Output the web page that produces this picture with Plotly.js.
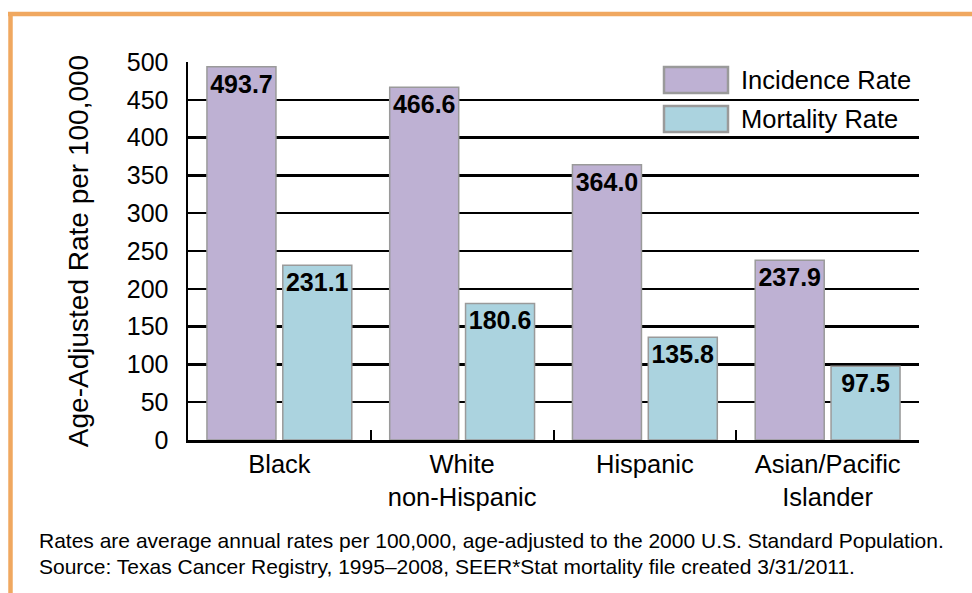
<!DOCTYPE html>
<html>
<head>
<meta charset="utf-8">
<script src="https://cdn.plot.ly/plotly-3.0.1.min.js"></script>
<style>
  html, body { margin: 0; padding: 0; background: #ffffff; }
  #chart { width: 972px; height: 593px; }
</style>
</head>
<body>
<div id="chart"></div>
<script>
// ---- Data ----
const categories = ['Black', 'White<br>non-Hispanic', 'Hispanic', 'Asian/Pacific<br>Islander'];
const incidenceRate = [493.7, 466.6, 364.0, 237.9];
const mortalityRate = [231.1, 180.6, 135.8, 97.5];
const seriesNames = ['Incidence Rate', 'Mortality Rate'];
const yTickValues = [0, 50, 100, 150, 200, 250, 300, 350, 400, 450, 500];
const yAxisTitle = 'Age-Adjusted Rate per 100,000';
const footnoteLines = [
  'Rates are average annual rates per 100,000, age-adjusted to the 2000 U.S. Standard Population.',
  'Source: Texas Cancer Registry, 1995\u20132008, SEER*Stat mortality file created 3/31/2011.'
];

// ---- Styles ----
const FONT = 'Liberation Sans, Arial, Helvetica, sans-serif';
const colors = ['#BEB1D3', '#ABD3DF'];
const barEdge = '#9a9a9a';
const orange = '#F0A860';

// ---- Layout geometry (pixels) ----
const W = 972, H = 593;
const L = 188, R = 919, T = 62, B = 440;
const pw = R - L, ph = B - T;
const px = x => (x - L) / pw;
const py = y => (B - y) / ph;

const seriesValues = [incidenceRate, mortalityRate];
const traces = seriesValues.map((vals, i) => ({
  type: 'bar',
  name: seriesNames[i],
  x: categories,
  y: vals,
  marker: { color: colors[i], line: { color: barEdge, width: 1.5 } },
  texttemplate: '%{y:.1f}',
  textposition: 'inside',
  insidetextanchor: 'end',
  textangle: 0,
  constraintext: 'none',
  textfont: { family: FONT, size: 25, color: '#000000', weight: 700 },
  hoverinfo: 'x+y',
  showlegend: false
}));

const shapes = [
  // orange frame (top and left)
  { type: 'line', xref: 'paper', yref: 'paper', x0: px(8), x1: px(W + 5), y0: py(14), y1: py(14),
    line: { color: orange, width: 4.5 }, layer: 'above' },
  { type: 'line', xref: 'paper', yref: 'paper', x0: px(10.5), x1: px(10.5), y0: py(12), y1: py(H + 5),
    line: { color: orange, width: 4.5 }, layer: 'above' }
];
const annotations = [];

// legend swatches + labels
const legendRows = [[67, 93], [106, 132]];
seriesNames.forEach((name, i) => {
  const [y0, y1] = legendRows[i];
  shapes.push({ type: 'rect', xref: 'paper', yref: 'paper',
    x0: px(664), x1: px(728), y0: py(y0), y1: py(y1),
    fillcolor: colors[i], line: { color: barEdge, width: 2.5 }, layer: 'above' });
  annotations.push({ xref: 'paper', yref: 'paper', x: px(739), y: py((y0 + y1) / 2),
    xanchor: 'left', yanchor: 'middle', showarrow: false, text: name,
    font: { family: FONT, size: 25.5, color: '#000000' } });
});

// footnote
const footY = [540, 566];
footnoteLines.forEach((t, i) => {
  annotations.push({ xref: 'paper', yref: 'paper', x: px(37), y: py(footY[i]),
    xanchor: 'left', yanchor: 'middle', showarrow: false, text: t,
    font: { family: FONT, size: 21, color: '#000000' } });
});

const layout = {
  width: W, height: H,
  margin: { l: L, r: W - R, t: T, b: H - B, pad: 0 },
  paper_bgcolor: '#ffffff',
  plot_bgcolor: 'rgba(0,0,0,0)',
  font: { family: FONT, size: 25, color: '#000000' },
  barmode: 'group',
  bargap: 0.17,
  bargroupgap: 0.09,
  showlegend: false,
  xaxis: {
    type: 'category',
    showline: true, linecolor: '#000000', linewidth: 2.5,
    ticks: 'inside', tickson: 'boundaries', ticklen: 10, tickwidth: 2, tickcolor: '#000000',
    showgrid: false, zeroline: false,
    tickfont: { family: FONT, size: 25.5, color: '#000000' },
    automargin: false, fixedrange: true
  },
  yaxis: {
    range: [0, 500],
    tickvals: yTickValues,
    ticktext: yTickValues.map(String),
    showline: true, linecolor: '#000000', linewidth: 2.5,
    showgrid: true, gridcolor: '#000000', gridwidth: 2.5,
    zeroline: false,
    ticks: '', ticklabelstandoff: 12,
    tickfont: { family: FONT, size: 25, color: '#000000' },
    title: { text: yAxisTitle, standoff: 30, font: { family: FONT, size: 28, color: '#000000' } },
    automargin: false, fixedrange: true
  },
  shapes: shapes,
  annotations: annotations
};

Plotly.newPlot('chart', traces, layout, { displayModeBar: false, staticPlot: true });
</script>
</body>
</html>
